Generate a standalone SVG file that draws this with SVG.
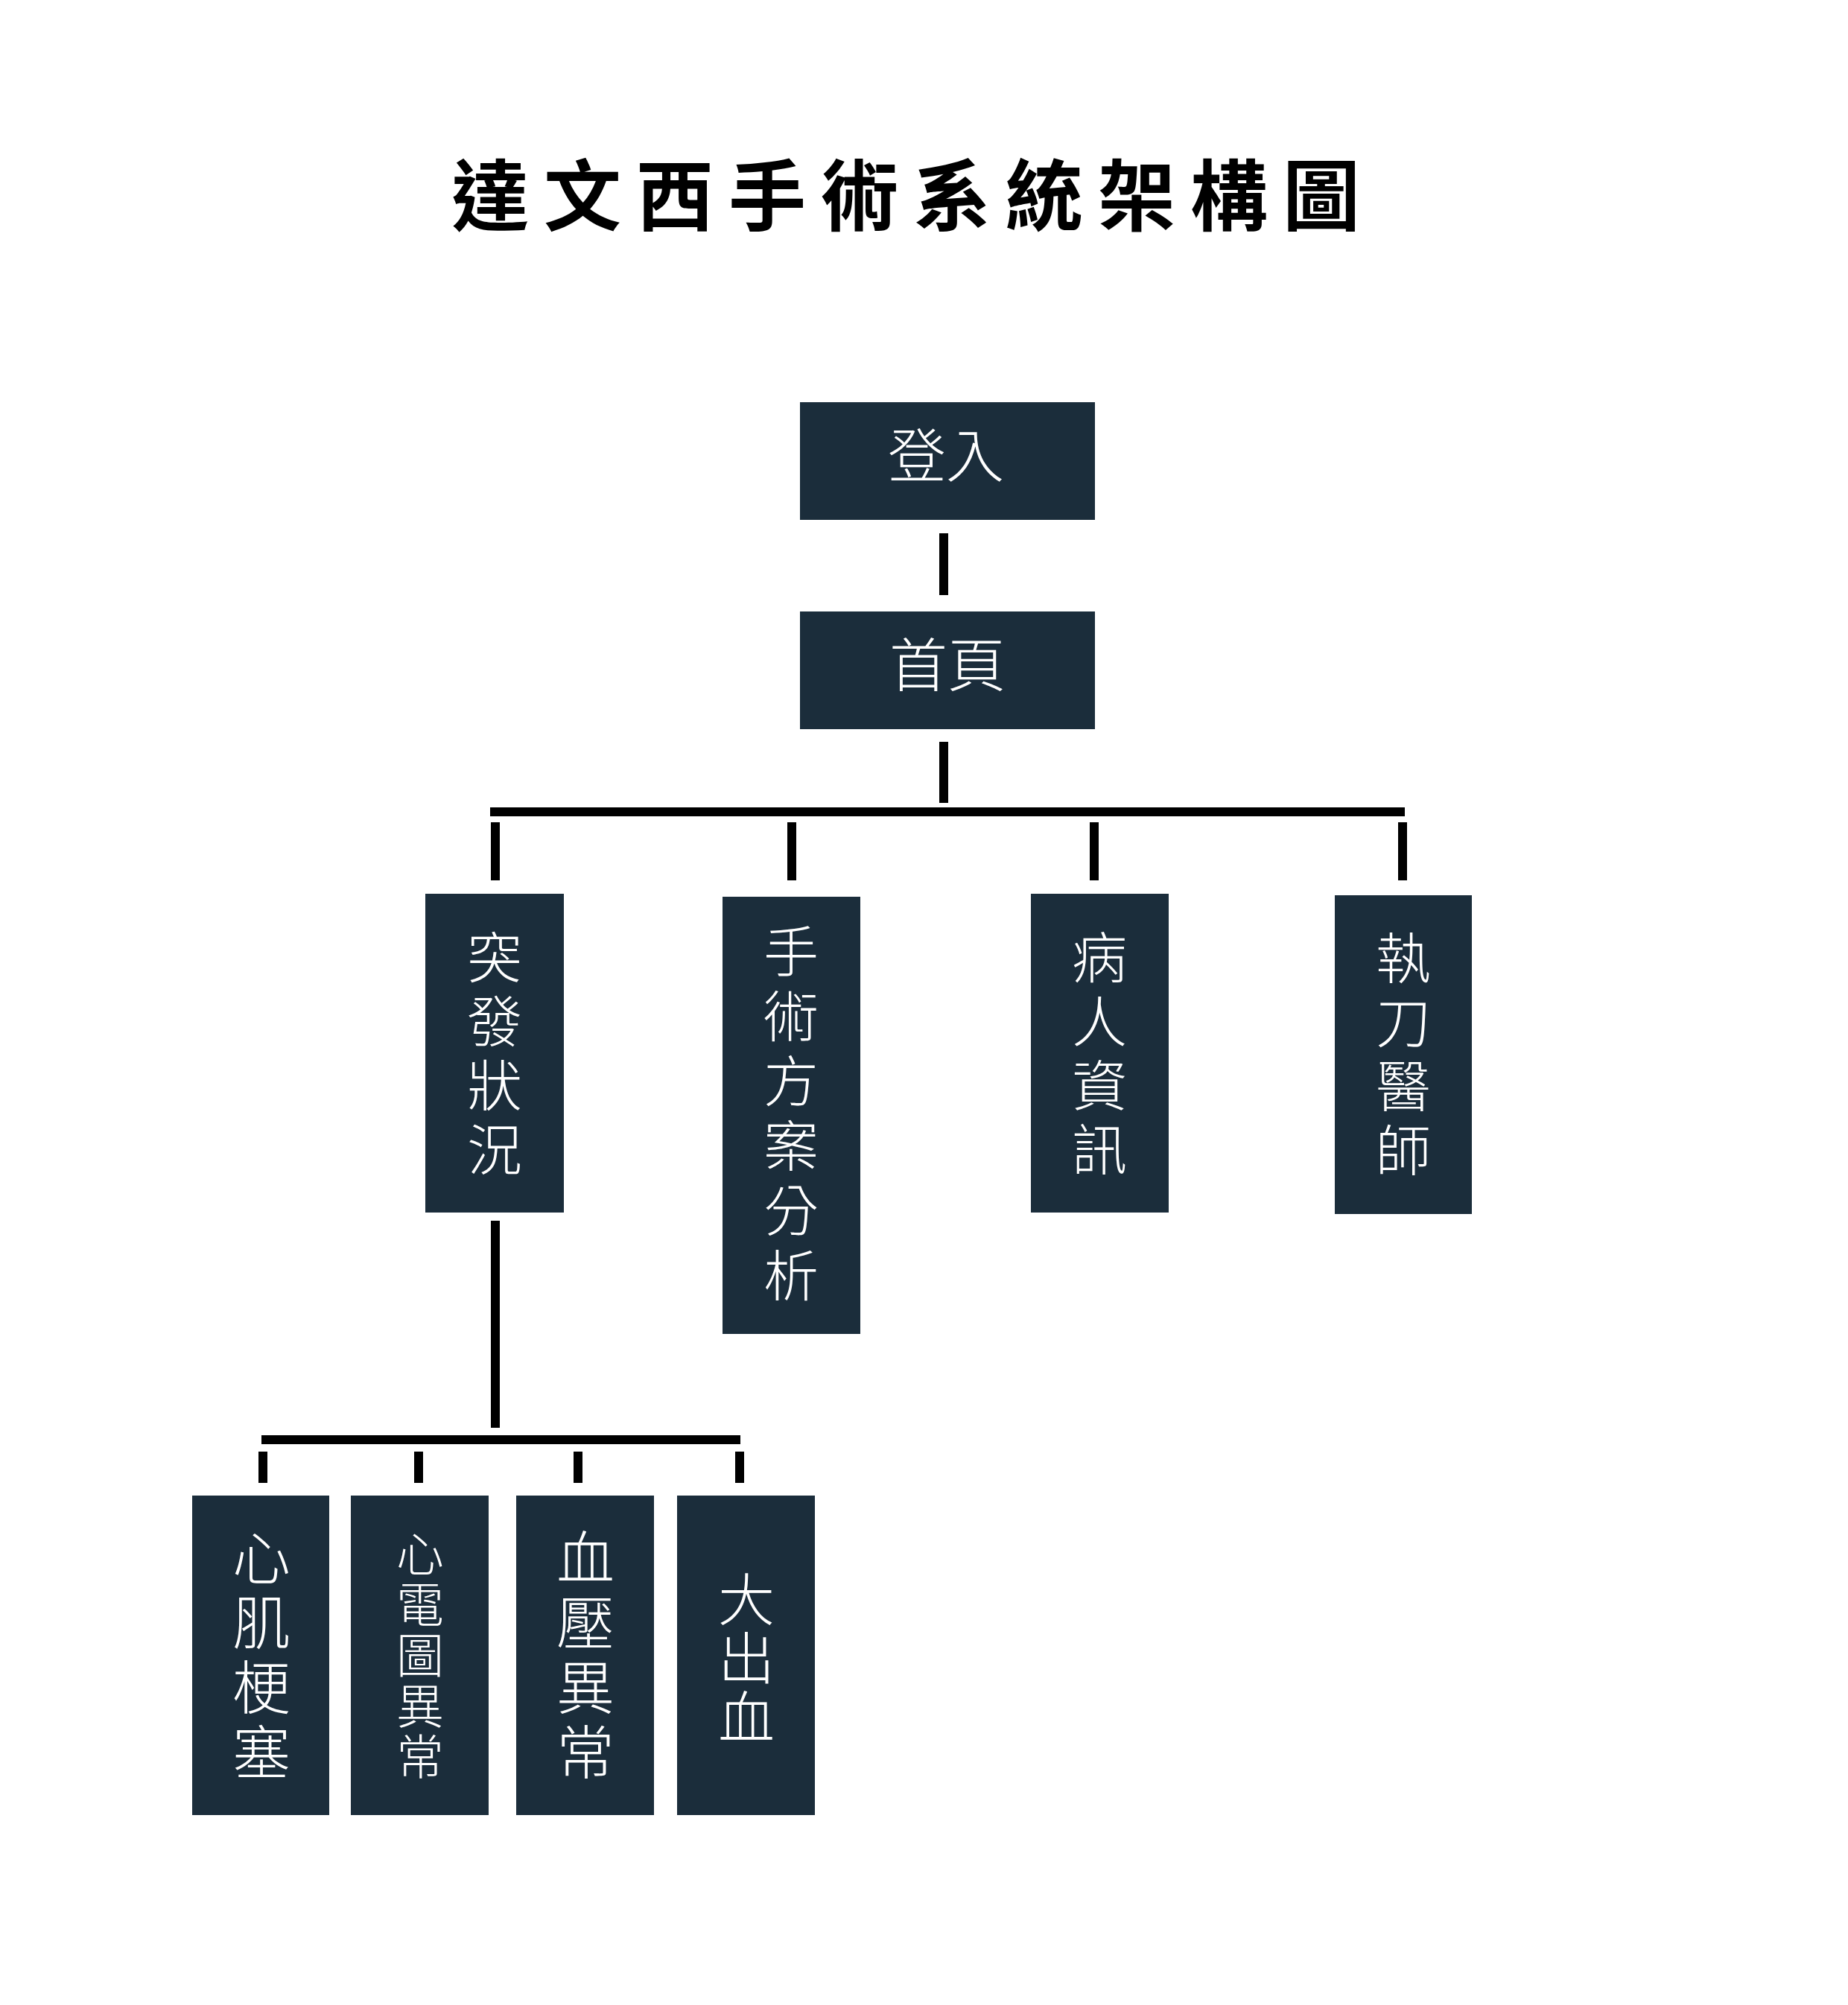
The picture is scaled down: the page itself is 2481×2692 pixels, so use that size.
<svg xmlns="http://www.w3.org/2000/svg" width="2481" height="2692" viewBox="0 0 2481 2692">
<style>
.bg{fill:#ffffff}
.box{fill:#1b2d3b}
.lbl{fill:#ffffff;font-family:"Noto Sans CJK TC","Noto Sans CJK SC",sans-serif;font-weight:300;text-anchor:middle}
.vl{writing-mode:vertical-rl;text-orientation:upright}
.ttl{fill:#000000;font-family:"Noto Sans CJK TC","Noto Sans CJK SC",sans-serif;font-weight:700;font-size:104px;text-anchor:middle}
.con{stroke:#000000;stroke-width:12;fill:none;stroke-linecap:butt}
</style>
<rect class="bg" x="0" y="0" width="2481" height="2692"/>
<g id="title">
<text class="ttl" y="302"><tspan x="658">達</tspan><tspan x="782">文</tspan><tspan x="906">西</tspan><tspan x="1030">手</tspan><tspan x="1154">術</tspan><tspan x="1278">系</tspan><tspan x="1402">統</tspan><tspan x="1526">架</tspan><tspan x="1650">構</tspan><tspan x="1774">圖</tspan></text>
</g>
<g id="connectors">
<line class="con" x1="1267" y1="716" x2="1267" y2="799"/>
<line class="con" x1="1267" y1="996" x2="1267" y2="1078"/>
<line class="con" x1="658" y1="1090" x2="1886" y2="1090"/>
<line class="con" x1="665" y1="1104" x2="665" y2="1182"/>
<line class="con" x1="1063" y1="1104" x2="1063" y2="1182"/>
<line class="con" x1="1469" y1="1104" x2="1469" y2="1182"/>
<line class="con" x1="1883" y1="1104" x2="1883" y2="1182"/>
<line class="con" x1="665" y1="1639" x2="665" y2="1917"/>
<line class="con" x1="351" y1="1933" x2="994" y2="1933"/>
<line class="con" x1="353" y1="1949" x2="353" y2="1991"/>
<line class="con" x1="562" y1="1949" x2="562" y2="1991"/>
<line class="con" x1="776" y1="1949" x2="776" y2="1991"/>
<line class="con" x1="993" y1="1949" x2="993" y2="1991"/>
</g>
<g id="login">
<rect class="box" x="1074" y="540" width="396" height="158"/>
<text class="lbl" x="1270" y="641" font-size="78">登入</text>
</g>
<g id="home">
<rect class="box" x="1074" y="821" width="396" height="158"/>
<text class="lbl" x="1272" y="922" font-size="78">首頁</text>
</g>
<g id="emergency">
<rect class="box" x="571" y="1200" width="186" height="428"/>
<text class="lbl vl" x="664" y="1420" font-size="74" letter-spacing="12">突發狀況</text>
</g>
<g id="surgery-plan">
<rect class="box" x="970" y="1204" width="185" height="587"/>
<text class="lbl vl" x="1062" y="1501" font-size="74" letter-spacing="13">手術方案分析</text>
</g>
<g id="patient-info">
<rect class="box" x="1384" y="1200" width="185" height="428"/>
<text class="lbl vl" x="1476" y="1420" font-size="74" letter-spacing="12">病人資訊</text>
</g>
<g id="surgeon">
<rect class="box" x="1792" y="1202" width="184" height="428"/>
<text class="lbl vl" x="1884" y="1421" font-size="74" letter-spacing="12">執刀醫師</text>
</g>
<g id="mi">
<rect class="box" x="258" y="2008" width="184" height="429"/>
<text class="lbl vl" x="351" y="2226" font-size="78" letter-spacing="9">心肌梗塞</text>
</g>
<g id="ecg">
<rect class="box" x="471" y="2008" width="185" height="429"/>
<text class="lbl vl" x="564" y="2224" font-size="64" letter-spacing="4">心電圖異常</text>
</g>
<g id="bp">
<rect class="box" x="693" y="2008" width="185" height="429"/>
<text class="lbl vl" x="786" y="2226" font-size="78" letter-spacing="9">血壓異常</text>
</g>
<g id="hemorrhage">
<rect class="box" x="909" y="2008" width="185" height="429"/>
<text class="lbl vl" x="1002" y="2228" font-size="76" letter-spacing="3">大出血</text>
</g>
</svg>
